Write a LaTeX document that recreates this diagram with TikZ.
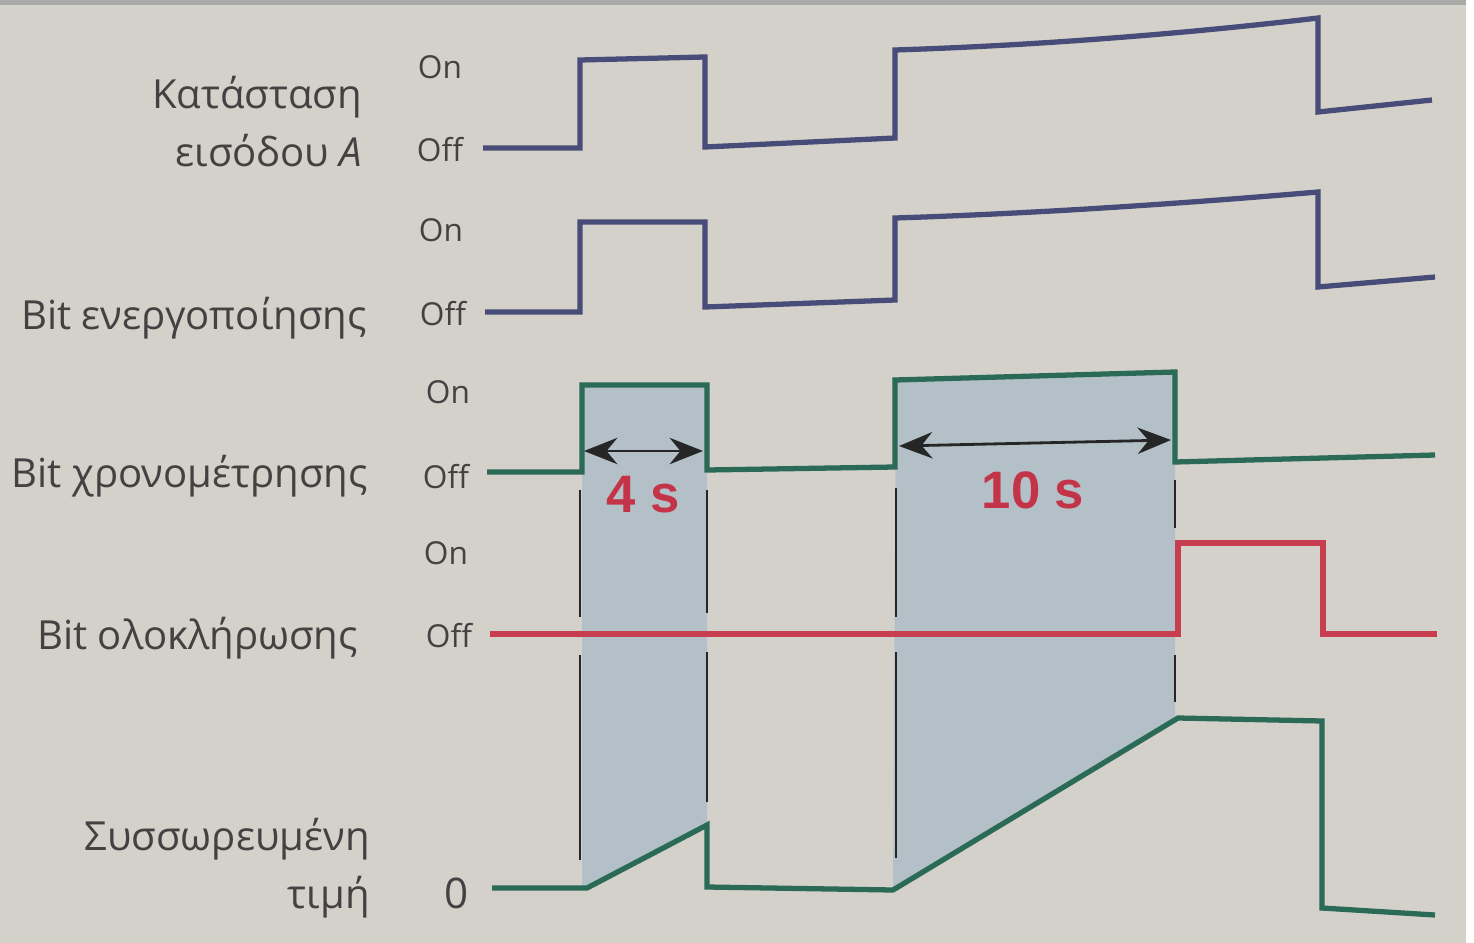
\documentclass[tikz,border=0pt]{standalone}
\usepackage{fontspec}
\setmainfont{Open Sans}
\newfontfamily\valuefont{Liberation Sans}
\usetikzlibrary{arrows.meta}

\definecolor{paper}{RGB}{212,209,202}
\definecolor{band}{RGB}{170,170,168}
\definecolor{intervalfill}{RGB}{180,192,199}
\definecolor{inkblue}{RGB}{72,76,120}
\definecolor{inkgreen}{RGB}{42,106,86}
\definecolor{inkred}{RGB}{198,62,80}
\definecolor{labelred}{RGB}{196,52,72}
\definecolor{labelgrey}{RGB}{66,66,66}

\begin{document}
\begin{tikzpicture}[x=0.02cm, y=-0.02cm]
   \tikzset{wave/.style={line width=3pt, line join=miter}}
   \tikzset{sigtext/.style={anchor=east, inner sep=0pt, align=right, text=labelgrey, font=\fontsize{22.8}{33}\selectfont}}
   \tikzset{level/.style={inner sep=0pt, text=labelgrey, font=\fontsize{18}{20}\selectfont}}
   \tikzset{marker/.style={line width=1.2pt, black!85}}
   \tikzset{span/.style={{Stealth[length=19pt,width=15pt]}-{Stealth[length=19pt,width=15pt]}, line width=1.6pt, black!85}}
   \tikzset{duration/.style={text=labelred, font=\valuefont\bfseries\fontsize{30}{32}\selectfont}}
   \fill[white] (0,0) rectangle (1474,943);
   \fill[paper] (0,5) rectangle (1466,943);
   \fill[band] (0,0) rectangle (1466,5);
   \useasboundingbox (0,0) rectangle (1474,943);
   % timed intervals
   \fill[intervalfill] (582,385) -- (707,385) -- (707,825) -- (587,888) -- (582,888) -- cycle;
   \fill[intervalfill] (896,380) -- (1175,372) -- (1175,718) -- (893,890) -- cycle;
   \foreach \x/\a/\b in {580/490/617, 580/655/860, 707/490/613, 707/652/802,
                         896/488/617, 896/652/858, 1175/480/528, 1175/655/702}
      \draw[marker] (\x,\a) -- (\x,\b);
   % signals
   \draw[wave, inkblue] (483,148) -- (580,148) -- (580,60) -- (705,57) -- (705,147) -- (895,138)
      -- (895,50) .. controls (1050,45) and (1200,32) .. (1318,18) -- (1318,112) -- (1432,100);
   \draw[wave, inkblue] (485,312) -- (580,312) -- (580,222) -- (705,222) -- (705,307) -- (895,300)
      -- (895,218) .. controls (1050,213) and (1200,202) .. (1318,192) -- (1318,287) -- (1435,277);
   \draw[wave, inkgreen] (487,472) -- (582,472) -- (582,385) -- (707,385) -- (707,470) -- (895,467)
      -- (895,380) -- (1175,372) -- (1175,462) -- (1435,455);
   \draw[wave, inkred] (490,634) -- (1178,634) -- (1178,543) -- (1323,543) -- (1323,634) -- (1437,634);
   \draw[wave, inkgreen] (492,888) -- (587,888) -- (707,825) -- (707,887) -- (893,890) -- (1178,718)
      -- (1322,721) -- (1322,908) -- (1435,915);
   % durations
   \coordinate (s1l) at (584,451);
   \coordinate (s1r) at (703,451);
   \coordinate (s2l) at (899,446);
   \coordinate (s2r) at (1171,440);
   \draw[span] (s1l) -- (s1r);
   \draw[span] (s2l) -- (s2r);
   \node[duration] (t1) at (643,495) {4 s};
   \node[duration] (t2) at (1033,490) {10 s};
   % signal names
   \node[sigtext] (inA) at (362,122) {Κατάσταση\\εισόδου \textit{A}};
   \node[sigtext] (enable) at (367,318) {Bit ενεργοποίησης};
   \node[sigtext] (timing) at (368,476) {Bit χρονομέτρησης};
   \node[sigtext] (done) at (358,638) {Bit ολοκλήρωσης};
   \node[sigtext] (accum) at (370,868) {Συσσωρευμένη\\τιμή};
   % levels
   \node[level] (on1) at (440,67) {On};
   \node[level] (off1) at (440,150) {Off};
   \node[level] (on2) at (441,230) {On};
   \node[level] (off2) at (443,314) {Off};
   \node[level] (on3) at (448,392) {On};
   \node[level] (off3) at (446,477) {Off};
   \node[level] (on4) at (446,553) {On};
   \node[level] (off4) at (449,636) {Off};
   \node[level, font=\fontsize{24}{26}\selectfont] (zero) at (457,893) {0};
\end{tikzpicture}
\end{document}
